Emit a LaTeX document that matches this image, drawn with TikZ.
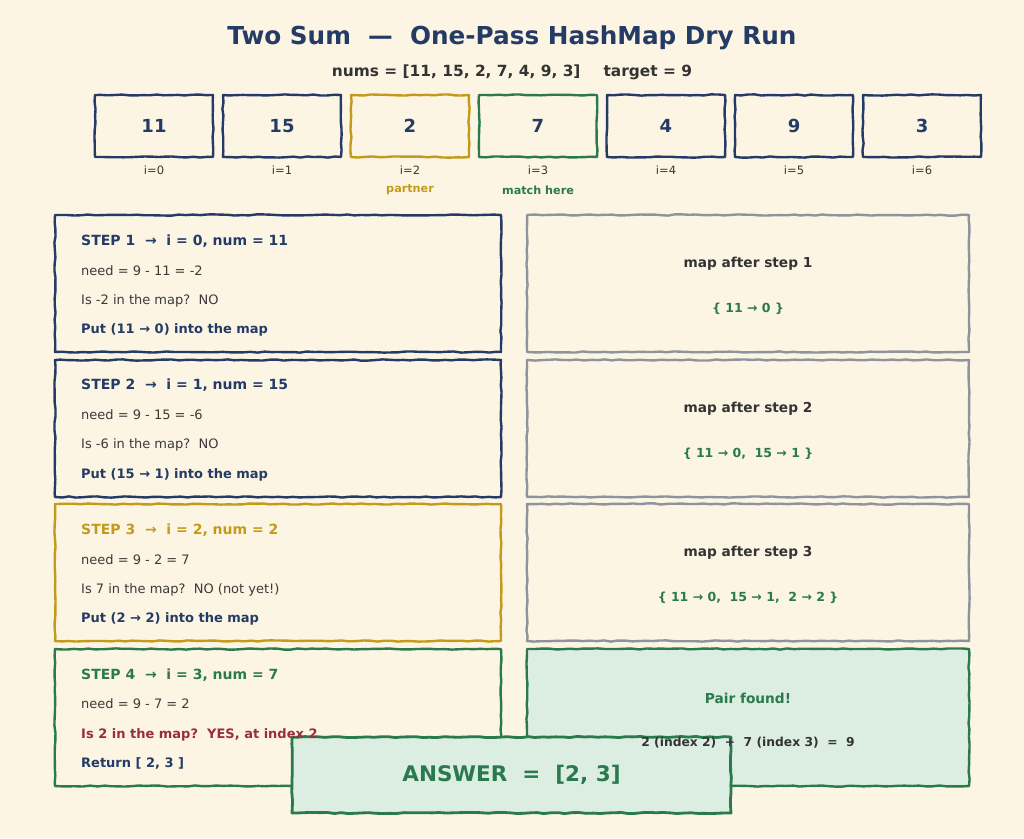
\documentclass[tikz,border=0pt]{standalone}
\usepackage{fontspec}
\setmainfont{DejaVu Sans}
\usetikzlibrary{decorations.pathmorphing}
\definecolor{bg}{HTML}{FDF5E4}
\definecolor{navy}{HTML}{243B66}
\definecolor{gold}{HTML}{C49A1C}
\definecolor{grn}{HTML}{2A7A4E}
\definecolor{gry}{HTML}{8E949C}
\definecolor{lgrn}{HTML}{DCEDE2}
\definecolor{redd}{HTML}{9B2C3C}
\definecolor{dark}{HTML}{333333}
\definecolor{txt}{HTML}{3A3A3A}
\begin{document}
\begin{tikzpicture}[x=1pt,y=-1pt,
  sketch/.style={decorate,decoration={random steps,segment length=7pt,amplitude=0.6pt},line join=round,line width=2.4pt},
  cell/.style={sketch,draw=#1,fill=bg,minimum width=118pt,minimum height=62pt,inner sep=0pt,font=\bfseries\fontsize{18}{20}\selectfont,text=navy},
  idx/.style={font=\fontsize{11.5}{13}\selectfont,text=txt,inner sep=0pt},
  stepbox/.style={sketch,draw=#1,fill=bg,minimum width=446pt,minimum height=137pt,inner sep=0pt},
  mapbox/.style={sketch,draw=gry,fill=bg,minimum width=442pt,minimum height=137pt,inner sep=0pt},
  sttl/.style={anchor=mid west,inner sep=0pt,font=\bfseries\fontsize{14}{16}\selectfont,text=#1},
  nline/.style={anchor=mid west,inner sep=0pt,font=\fontsize{13}{16}\selectfont,text=txt},
  bline/.style={anchor=mid west,inner sep=0pt,font=\bfseries\fontsize{13}{16}\selectfont,text=#1},
  mhead/.style={inner sep=0pt,font=\bfseries\fontsize{13.7}{16}\selectfont,text=dark},
  mval/.style={inner sep=0pt,font=\bfseries\fontsize{12.5}{16}\selectfont,text=#1}
]
\pgfmathsetseed{11}
\useasboundingbox[fill=bg] (0,0) rectangle (1024,838);

% title
\node[font=\bfseries\fontsize{24.7}{28}\selectfont,text=navy] (title) at (512,38) {Two Sum~~—~~One-Pass HashMap Dry Run};
\node[font=\bfseries\fontsize{15.4}{18}\selectfont,text=dark] (sub) at (512,72) {nums = [11, 15, 2, 7, 4, 9, 3]\hspace{1.5em}target = 9};

% array
\node[cell=navy] (c0) at (154,126) {11};
\node[cell=navy] (c1) at (282,126) {15};
\node[cell=gold] (c2) at (410,126) {2};
\node[cell=grn]  (c3) at (538,126) {7};
\node[cell=navy] (c4) at (666,126) {4};
\node[cell=navy] (c5) at (794,126) {9};
\node[cell=navy] (c6) at (922,126) {3};
\node[idx] (i0) at (154,170) {i=0};
\node[idx] (i1) at (282,170) {i=1};
\node[idx] (i2) at (410,170) {i=2};
\node[idx] (i3) at (538,170) {i=3};
\node[idx] (i4) at (666,170) {i=4};
\node[idx] (i5) at (794,170) {i=5};
\node[idx] (i6) at (922,170) {i=6};
\node[inner sep=0pt,font=\bfseries\fontsize{11.2}{13}\selectfont,text=gold] (partner) at (410,190) {partner};
\node[inner sep=0pt,font=\bfseries\fontsize{11.2}{13}\selectfont,text=grn] (match) at (538,190) {match here};

% boxes
\node[stepbox=navy] (l1) at (278,283.5) {};
\node[mapbox] (r1) at (748,283.5) {};
\node[stepbox=navy] (l2) at (278,428.5) {};
\node[mapbox] (r2) at (748,428.5) {};
\node[stepbox=gold] (l3) at (278,572.5) {};
\node[mapbox] (r3) at (748,572.5) {};
\node[stepbox=grn] (l4) at (278,717.5) {};
\node[sketch,draw=grn,fill=lgrn,minimum width=442pt,minimum height=137pt,inner sep=0pt] (r4) at (748,717.5) {};
\node[sketch,draw=grn,fill=lgrn,line width=2.8pt,minimum width=439pt,minimum height=76pt,inner sep=0pt] (ans) at (511.5,775) {};

% step 1
\node[sttl=navy] (s1a) at (81,243) {STEP 1~~→~~i = 0, num = 11};
\node[nline] (s1b) at (81,273) {need = 9 - 11 = -2};
\node[nline] (s1c) at (81,302) {Is -2 in the map?~~NO};
\node[bline=navy] (s1d) at (81,331) {Put (11 → 0) into the map};
\node[mhead] (m1a) at (748,264) {map after step 1};
\node[mval=grn] (m1b) at (748,309) {\{ 11 → 0 \}};
% step 2
\node[sttl=navy] (s2a) at (81,387) {STEP 2~~→~~i = 1, num = 15};
\node[nline] (s2b) at (81,417) {need = 9 - 15 = -6};
\node[nline] (s2c) at (81,446) {Is -6 in the map?~~NO};
\node[bline=navy] (s2d) at (81,476) {Put (15 → 1) into the map};
\node[mhead] (m2a) at (748,409) {map after step 2};
\node[mval=grn] (m2b) at (748,454) {\{ 11 → 0,~~15 → 1 \}};
% step 3
\node[sttl=gold] (s3a) at (81,532) {STEP 3~~→~~i = 2, num = 2};
\node[nline] (s3b) at (81,562) {need = 9 - 2 = 7};
\node[nline] (s3c) at (81,591) {Is 7 in the map?~~NO (not yet!)};
\node[bline=navy] (s3d) at (81,620) {Put (2 → 2) into the map};
\node[mhead] (m3a) at (748,553) {map after step 3};
\node[mval=grn] (m3b) at (748,598) {\{ 11 → 0,~~15 → 1,~~2 → 2 \}};
% step 4
\node[sttl=grn] (s4a) at (81,677) {STEP 4~~→~~i = 3, num = 7};
\node[nline] (s4b) at (81,706) {need = 9 - 7 = 2};
\node[bline=redd] (s4c) at (81,736) {Is 2 in the map?~~YES, at index 2};
\node[bline=navy] (s4d) at (81,765) {Return [ 2, 3 ]};
\node[mhead,text=grn] (m4a) at (748,698) {Pair found!};
\node[mhead,font=\bfseries\fontsize{12.3}{14}\selectfont] (m4b) at (748,743) {2 (index 2)~~+~~7 (index 3)~~=~~9};

\node[inner sep=0pt,font=\bfseries\fontsize{21.5}{24}\selectfont,text=grn] (anst) at (511.5,775) {ANSWER~~=~~[2, 3]};
\end{tikzpicture}
\end{document}
